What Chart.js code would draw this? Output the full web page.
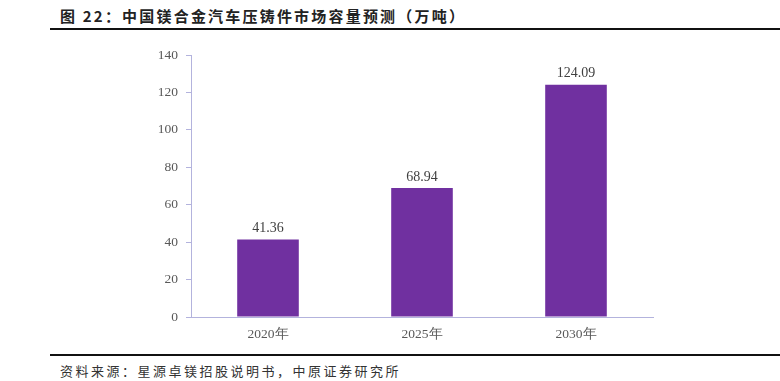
<!DOCTYPE html>
<html><head><meta charset="utf-8">
<script src="https://cdn.jsdelivr.net/npm/chart.js@4"></script>
<style>
html,body{margin:0;padding:0;background:#fff;}
#wrap{position:relative;width:780px;height:381px;overflow:hidden;}
#title{position:absolute;left:60px;top:5px;font-family:"Noto Sans CJK SC";font-weight:700;font-size:15px;letter-spacing:2.2px;color:#222;white-space:nowrap;}
#src{position:absolute;left:60px;top:361px;font-family:"Noto Sans CJK SC";font-size:13px;letter-spacing:2.5px;color:#333;white-space:nowrap;}
.rule{position:absolute;left:50px;width:730px;height:2px;background:#111;}
canvas{position:absolute;left:0;top:0;}
</style></head>
<body><div id="wrap">
<div id="title">图 22：中国镁合金汽车压铸件市场容量预测（万吨）</div>
<div class="rule" style="top:28px"></div>
<div class="rule" style="top:354px"></div>
<div id="src">资料来源：星源卓镁招股说明书，中原证券研究所</div>
<canvas id="c" width="780" height="381"></canvas>
</div>
<script>
const categories = ["2020年", "2025年", "2030年"];
const capacity = [41.36, 68.94, 124.09];
const yTicks = [0, 20, 40, 60, 80, 100, 120, 140];

const axisColor = "#b3b3dd";
const labelPlugin = {
  id: "vals",
  afterDatasetsDraw(chart) {
    const ctx = chart.ctx;
    const meta = chart.getDatasetMeta(0);
    ctx.save();
    ctx.font = "14px 'Liberation Serif'";
    ctx.fillStyle = "#404040";
    ctx.textAlign = "center";
    ctx.textBaseline = "bottom";
    meta.data.forEach((bar, i) => {
      ctx.fillText(capacity[i].toFixed(2), bar.x, bar.y - 4);
    });
    ctx.restore();
  }
};

new Chart(document.getElementById("c"), {
  type: "bar",
  data: {
    labels: categories,
    datasets: [{
      data: capacity,
      backgroundColor: "#7030a0",
      categoryPercentage: 1,
      barPercentage: 0.4
    }]
  },
  options: {
    responsive: false,
    animation: false,
    layout: { padding: { left: 151, right: 127, top: 55, bottom: 34 } },
    plugins: { legend: { display: false }, tooltip: { enabled: false } },
    scales: {
      x: {
        afterFit(s) { s.height = 30; },
        grid: { display: false, drawTicks: false },
        border: { color: axisColor, width: 1 },
        ticks: { color: "#595959", font: { family: "Liberation Serif", size: 13.5 }, padding: 9 }
      },
      y: {
        min: 0, max: 140,
        afterFit(s) { s.width = 40; },
        afterBuildTicks(s) { s.ticks = yTicks.map(v => ({ value: v })); },
        grid: { drawOnChartArea: false, drawTicks: true, tickLength: 5, color: axisColor },
        border: { color: axisColor, width: 1 },
        ticks: { color: "#595959", font: { family: "Liberation Serif", size: 13.5 }, padding: 8 }
      }
    }
  },
  plugins: [labelPlugin]
});
</script>
</body></html>
